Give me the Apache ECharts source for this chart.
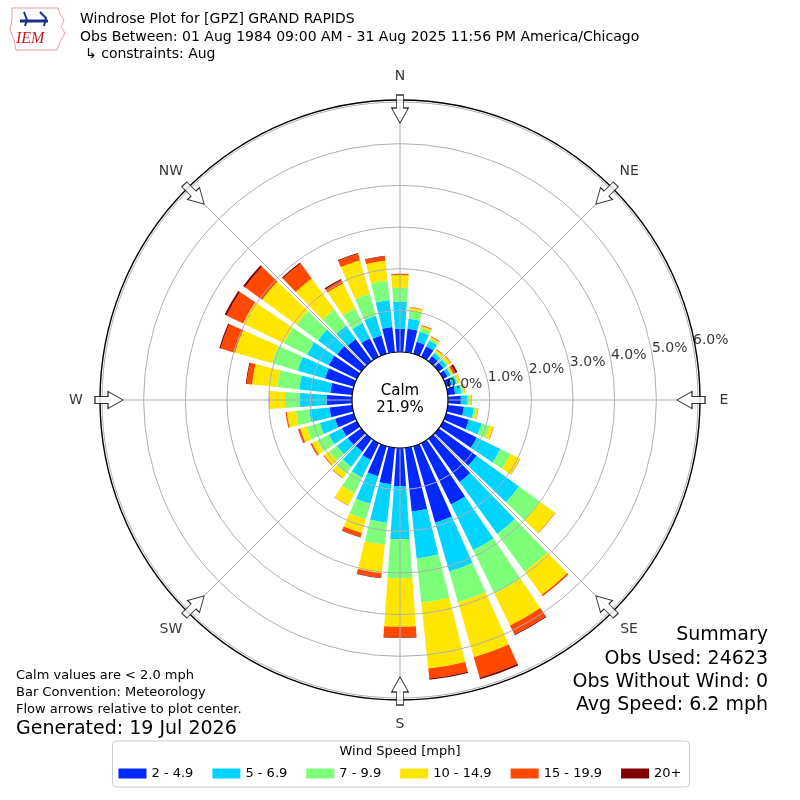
<!DOCTYPE html>
<html><head><meta charset="utf-8">
<script src="https://cdn.jsdelivr.net/npm/echarts@6/dist/echarts.min.js"></script>
<style>html,body{margin:0;padding:0;background:#fff}#c{width:800px;height:800px}</style>
</head><body><div id="c"></div>
<script>
// ---- data (percent of observations) ----
const directions = [0,10,20,30,40,50,60,70,80,90,100,110,120,130,140,150,160,170,180,190,200,210,220,230,240,250,260,270,280,290,300,310,320,330,340,350];
const speedBins = ['2 - 4.9','5 - 6.9','7 - 9.9','10 - 14.9','15 - 19.9','20+'];
const binColors = ['#0028ff','#00d4ff','#7dff7a','#ffe600','#ff4800','#800000'];
const s2to5   = [0.56,0.57,0.30,0.28,0.15,0.14,0.12,0.14,0.18,0.31,0.39,0.57,0.90,1.12,1.28,1.64,1.91,1.54,0.92,0.88,0.75,0.45,0.38,0.40,0.40,0.47,0.55,0.61,0.53,0.72,0.75,0.71,0.66,0.50,0.46,0.61];
const s5to7   = [0.65,0.24,0.25,0.16,0.09,0.10,0.08,0.12,0.15,0.15,0.24,0.32,0.63,1.26,1.54,1.22,1.22,1.13,1.27,0.93,0.69,0.47,0.45,0.32,0.35,0.38,0.49,0.64,0.75,0.68,0.58,0.57,0.39,0.40,0.49,0.65];
const s7to10  = [0.33,0.21,0.10,0.05,0.04,0.04,0.03,0.04,0.05,0.05,0.05,0.19,0.27,0.62,1.12,1.16,0.77,1.07,0.94,0.53,0.39,0.42,0.20,0.23,0.31,0.33,0.32,0.36,0.53,0.64,0.62,0.64,0.48,0.40,0.55,0.47];
const s10to15 = [0.31,0.06,0.05,0.04,0.05,0.07,0.04,0.05,0.04,0.05,0.05,0.10,0.25,0.45,0.69,0.85,1.37,1.59,1.16,0.69,0.34,0.32,0.14,0.15,0.14,0.16,0.22,0.37,0.61,0.93,1.09,1.02,0.92,0.66,0.84,0.48];
const s15to20 = [0.02,0.01,0.02,0.02,0.02,0.02,0.06,0.01,0.01,0.01,0.01,0.01,0.01,0.01,0.04,0.24,0.51,0.24,0.26,0.11,0.10,0.01,0.01,0.02,0.04,0.04,0.03,0.01,0.13,0.36,0.44,0.51,0.45,0.09,0.16,0.11];
const s20plus = [0.01,0.00,0.00,0.00,0.00,0.00,0.05,0.00,0.00,0.00,0.00,0.00,0.00,0.00,0.00,0.02,0.04,0.03,0.01,0.01,0.01,0.00,0.00,0.00,0.00,0.01,0.00,0.00,0.02,0.03,0.05,0.05,0.03,0.03,0.02,0.01];
const ringTicks = [0,1,2,3,4,5,6];
const compassNames = ['N','NE','E','SE','S','SW','W','NW'];
const compassAngles = [0,45,90,135,180,225,270,315];
const calmPct = 21.9;
const obsUsed = 24623;
const obsWithoutWind = 0;
const avgSpeed = 6.2;

// ---- chart ----
const FONT = '"DejaVu Sans", "Liberation Sans", sans-serif';
const seriesBins = [s2to5, s5to7, s7to10, s10to15, s15to20, s20plus];
const chart = echarts.init(document.getElementById('c'));
const CX = 400, CY = 400;
function txt(text, x, y, size, align, extra) {
  return Object.assign({type:'text', x:x, y:y, z:100, silent:true,
    style:{text:text, fill:'#000', font:size+'px '+FONT, textAlign:align||'left', align:align||'left',
           textVerticalAlign:'middle', verticalAlign:'middle'}}, extra||{});
}
const arrowPath = 'path://M-3.5 0 L3.5 0 L3.5 13 L8.5 13 L0 28 L-8.5 13 L-3.5 13 Z';

const option = {
  animation:false,
  textStyle:{fontFamily:FONT},
  polar:[
    {center:[CX,CY], radius:[48,298]},
    {center:[CX,CY], radius:[48,298]},
    {center:[CX,CY], radius:[0,324]}
  ],
  angleAxis:[
    {polarIndex:0, type:'category', data:directions.map(String), startAngle:95, clockwise:true,
     axisLine:{show:false}, axisTick:{show:false}, axisLabel:{show:false}, splitLine:{show:false}},
    {polarIndex:1, type:'value', min:0, max:360, interval:45, startAngle:90, clockwise:true, z:5,
     axisLine:{show:false}, axisTick:{show:false}, axisLabel:{show:false},
     splitLine:{show:true, lineStyle:{color:'#b0b0b0', width:1}}},
    {polarIndex:2, type:'value', min:0, max:360, startAngle:90, clockwise:true,
     axisLine:{show:false}, axisTick:{show:false}, axisLabel:{show:false}, splitLine:{show:false}}
  ],
  radiusAxis:[
    {polarIndex:0, min:0, max:6, axisLine:{show:false}, axisTick:{show:false}, axisLabel:{show:false}, splitLine:{show:false}},
    {polarIndex:1, min:0, max:6, interval:1, z:5, axisLine:{show:false}, axisTick:{show:false}, axisLabel:{show:false},
     splitLine:{show:true, lineStyle:{color:'#b0b0b0', width:1}}},
    {polarIndex:2, min:0, max:1, axisLine:{show:false}, axisTick:{show:false}, axisLabel:{show:false}, splitLine:{show:false}}
  ],
  legend:{
    data:speedBins, left:'center', top:741, orient:'horizontal',
    icon:'rect', itemWidth:28, itemHeight:10, itemGap:19,
    padding:[26,8,7,6], backgroundColor:'#fff', borderColor:'#cccccc', borderWidth:1, borderRadius:4,
    textStyle:{fontSize:13, color:'#000', fontFamily:FONT}, selectedMode:false
  },
  series: speedBins.map((name,i)=>({
    type:'bar', name:name, coordinateSystem:'polar', polarIndex:0, stack:'speed',
    data:seriesBins[i], barWidth:'80%', itemStyle:{color:binColors[i]}, z:2, silent:true
  })).concat([
    {type:'scatter', coordinateSystem:'polar', polarIndex:1, symbolSize:1, z:20, silent:true,
     itemStyle:{color:'rgba(0,0,0,0)'},
     data: ringTicks.map(v=>[v, 80]),
     label:{show:true, position:[0,0], align:'left', verticalAlign:'bottom', fontSize:14, color:'#000', fontFamily:FONT,
       formatter:p=>p.value[0].toFixed(1)+'%'}},
    {type:'scatter', coordinateSystem:'polar', polarIndex:2, symbolSize:1, z:20, silent:true,
     itemStyle:{color:'rgba(0,0,0,0)'},
     data: compassAngles.map(a=>[1, a]),
     label:{show:true, position:'inside', fontSize:14, color:'#000', fontFamily:FONT,
       formatter:p=>compassNames[p.dataIndex]}},
    {type:'scatter', coordinateSystem:'polar', polarIndex:2, z:30, silent:true,
     symbol:arrowPath, symbolSize:[17,28],
     itemStyle:{color:'#fff', borderColor:'#000', borderWidth:1},
     data: compassAngles.map(a=>({value:[291/324, a], symbolRotate:-a}))}
  ]),
  graphic:[
    {type:'circle', z:25, silent:true, shape:{cx:CX, cy:CY, r:300}, style:{fill:null, stroke:'#000', lineWidth:1.4}},
    {type:'circle', z:40, silent:true, shape:{cx:CX, cy:CY, r:48}, style:{fill:'#fff', stroke:'#000', lineWidth:1.2}},
    txt('Calm', CX, 391, 15, 'center', {z:41}),
    txt(calmPct.toFixed(1)+'%', CX, 408, 15, 'center', {z:41}),
    // title
    txt('Windrose Plot for [GPZ] GRAND RAPIDS', 80, 19, 14),
    txt('Obs Between: 01 Aug 1984 09:00 AM - 31 Aug 2025 11:56 PM America/Chicago', 80, 37, 14),
    txt('↳ constraints: Aug', 85, 54, 14),
    // logo
    {type:'polygon', z:50, silent:true, shape:{points:[[12,8],[58,8],[60,14],[64,20],[61,27],[65,33],[60,42],[57,50],[16,50],[14,40],[10,30],[12,20]]},
      style:{fill:'#fff', stroke:'#e6a0a0', lineWidth:1}},
    {type:'polyline', z:51, silent:true, shape:{points:[[20,21],[48,21]]}, style:{stroke:'#1a2f8c', lineWidth:3}},
    {type:'polyline', z:51, silent:true, shape:{points:[[24,12],[27,20],[25,26]]}, style:{stroke:'#1a2f8c', lineWidth:2}},
    {type:'polyline', z:51, silent:true, shape:{points:[[40,12],[46,18],[44,26]]}, style:{stroke:'#1a2f8c', lineWidth:2}},
    txt('IEM', 16, 39, 16, 'left', {style:{text:'IEM', fill:'#cc1a1a', font:'italic 16px "Liberation Serif", serif', textAlign:'left', align:'left', textVerticalAlign:'middle', verticalAlign:'middle'}}),
    // footer left
    txt('Calm values are < 2.0 mph', 16, 676, 13),
    txt('Bar Convention: Meteorology', 16, 693, 13),
    txt('Flow arrows relative to plot center.', 16, 710, 13),
    txt('Generated: 19 Jul 2026', 16, 729, 19),
    // summary right
    txt('Summary', 768, 635, 19, 'right'),
    txt('Obs Used: '+obsUsed, 768, 659, 19, 'right'),
    txt('Obs Without Wind: '+obsWithoutWind, 768, 682, 19, 'right'),
    txt('Avg Speed: '+avgSpeed.toFixed(1)+' mph', 768, 705, 19, 'right'),
    // legend title
    txt('Wind Speed [mph]', 400, 752, 13, 'center')
  ]
};
chart.setOption(option);
</script>
</body></html>
